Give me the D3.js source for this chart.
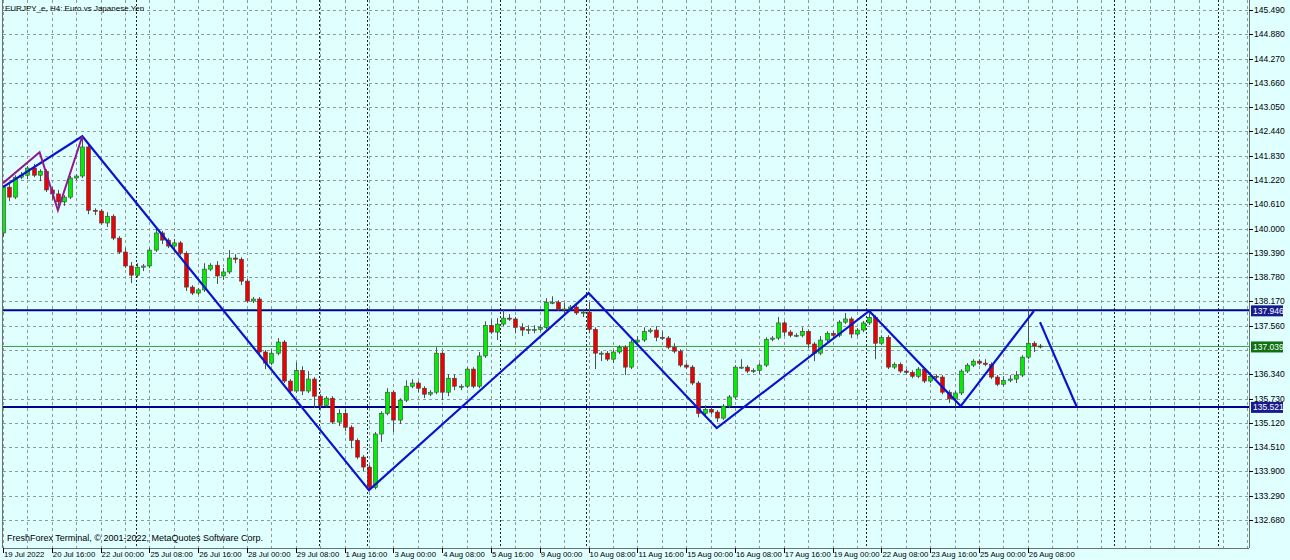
<!DOCTYPE html>
<html><head><meta charset="utf-8">
<script src="https://cdn.jsdelivr.net/npm/d3@7"></script>
<style>body{margin:0;background:#e0ffff}svg{display:block}text{font-family:"Liberation Sans",Arial,sans-serif}</style>
</head><body><svg id="c" width="1290" height="560"></svg>
<script>
const title = "EURJPY_e, H4:  Euro vs Japanese Yen";
const copyright = "FreshForex Terminal, © 2001-2022, MetaQuotes Software Corp.";
const firstOpen = 139.89;
const closes = [141.04,140.79,141.29,141.34,141.52,141.34,141.44,140.97,140.87,140.67,
140.79,141.27,141.32,142.05,140.46,140.44,140.14,140.31,139.76,139.41,
139.06,138.83,139.03,139.06,139.46,139.89,139.71,139.56,139.64,139.38,
138.53,138.38,138.46,138.98,139.08,138.81,138.91,139.26,139.23,138.68,
138.18,138.23,136.90,136.62,136.87,137.15,136.17,135.92,136.44,135.92,
136.22,135.79,135.56,135.74,135.14,135.36,135.01,134.68,134.26,134.01,
133.50,134.84,135.36,135.89,135.19,135.69,136.04,136.12,135.99,135.84,
135.89,136.87,135.89,136.24,136.04,136.04,136.47,136.04,136.80,137.57,
137.40,137.60,137.75,137.73,137.52,137.45,137.47,137.47,137.52,138.15,
138.15,137.98,137.98,138.03,137.88,137.90,137.47,136.87,136.87,136.72,
136.90,137.02,136.52,137.15,137.20,137.42,137.45,137.27,137.25,137.02,
136.92,136.57,136.52,136.12,135.36,135.46,135.39,135.24,135.54,135.77,
136.52,136.52,136.42,136.44,136.57,137.22,137.25,137.63,137.40,137.32,
137.32,137.42,137.10,136.87,137.20,137.37,137.32,137.65,137.73,137.35,
137.45,137.63,137.77,137.12,137.27,136.52,136.59,136.42,136.39,136.29,
136.47,136.17,136.29,136.27,135.89,135.72,135.87,136.42,136.57,136.67,
136.62,136.59,136.27,136.09,136.19,136.22,136.32,136.77,137.12,137.05,137.04];
const wickUp = [0.05,0.1,0.05,0.08,0.05,0.1,0.05,0.05,0.08,0.1, 0.05,0.05,0.05,0.27,0.05,0.05,0.05,0.1,0.05,0.05,
0.1,0.1,0.1,0.05,0.05,0.1,0.05,0.05,0.1,0.05, 0.05,0.05,0.05,0.15,0.05,0.1,0.1,0.2,0.1,0.05,
0.05,0.05,0.05,0.05,0.1,0.1,0.05,0.05,0.2,0.1, 0.2,0.05,0.05,0.05,0.05,0.1,0.1,0.05,0.05,0.05,
0.05,0.05,0.05,0.1,0.05,0.05,0.15,0.1,0.05,0.05, 0.05,0.15,0.05,0.1,0.1,0.05,0.05,0.05,0.1,0.1,
0.15,0.15,0.2,0.1,0.05,0.1,0.1,0.1,0.05,0.1, 0.15,0.05,0.15,0.05,0.05,0.05,0.25,0.05,0.05,0.05,
0.05,0.05,0.05,0.05,0.1,0.1,0.05,0.1,0.15,0.05, 0.1,0.05,0.05,0.05,0.05,0.1,0.05,0.05,0.05,0.05,
0.05,0.2,0.05,0.05,0.05,0.05,0.05,0.15,0.05,0.05, 0.05,0.1,0.05,0.05,0.1,0.05,0.05,0.05,0.15,0.05,
0.05,0.05,0.12,0.05,0.05,0.05,0.05,0.05,0.05,0.05, 0.05,0.05,0.05,0.05,0.05,0.05,0.05,0.05,0.05,0.05,
0.05,0.1,0.05,0.05,0.1,0.1,0.1,0.05,0.83,0.05,0.05];
const wickDn = [0.1,0.1,0.05,0.05,0.1,0.05,0.15,0.05,0.15,0.1, 0.1,0.05,0.05,0.05,0.1,0.1,0.05,0.1,0.05,0.05,
0.05,0.2,0.05,0.1,0.05,0.05,0.1,0.05,0.15,0.05, 0.1,0.05,0.05,0.05,0.05,0.2,0.1,0.05,0.1,0.1,
0.05,0.05,0.05,0.15,0.05,0.05,0.05,0.05,0.05,0.1, 0.05,0.3,0.1,0.05,0.05,0.1,0.1,0.2,0.05,0.1,
0.1,0.05,0.2,0.05,0.3,0.1,0.05,0.05,0.1,0.1, 0.05,0.05,0.2,0.1,0.1,0.1,0.05,0.05,0.05,0.05,
0.05,0.2,0.05,0.05,0.15,0.15,0.1,0.1,0.05,0.05, 0.05,0.05,0.1,0.05,0.05,0.1,0.1,0.4,0.2,0.05,
0.1,0.05,0.2,0.05,0.05,0.05,0.05,0.1,0.05,0.05, 0.05,0.05,0.05,0.05,0.1,0.05,0.05,0.1,0.05,0.05,
0.05,0.05,0.05,0.05,0.1,0.05,0.05,0.05,0.1,0.05, 0.05,0.05,0.1,0.2,0.05,0.1,0.05,0.05,0.05,0.1,
0.05,0.05,0.05,0.4,0.05,0.05,0.05,0.05,0.05,0.05, 0.05,0.05,0.05,0.05,0.05,0.1,0.2,0.05,0.05,0.05,
0.05,0.05,0.05,0.05,0.05,0.05,0.1,0.05,0.05,0.15,0.05];
const priceTicks = [145.490,144.880,144.270,143.660,143.050,142.440,141.830,141.220,140.610,140.000,139.390,138.780,138.170,137.560,136.340,135.730,135.120,134.510,133.900,133.290,132.680];
const gridPrices = [145.490,144.880,144.270,143.660,143.050,142.440,141.830,141.220,140.610,140.000,139.390,138.780,138.170,137.560,136.950,136.340,135.730,135.120,134.510,133.900,133.290,132.680];
const timeLabels = ["19 Jul 2022","20 Jul 16:00","22 Jul 00:00","25 Jul 08:00","26 Jul 16:00","28 Jul 00:00","29 Jul 08:00","1 Aug 16:00","3 Aug 00:00","4 Aug 08:00","5 Aug 16:00","9 Aug 00:00","10 Aug 08:00","11 Aug 16:00","15 Aug 00:00","16 Aug 08:00","17 Aug 16:00","19 Aug 00:00","22 Aug 08:00","23 Aug 16:00","25 Aug 00:00","26 Aug 08:00"];
const separators = [21.8,51.8,59.7,81.5,95.6,141.5,182.1,199.2];
const levels = [{p:137.946,c:"#000090",w:2,bg:"#1a1a90"},{p:135.521,c:"#000090",w:2,bg:"#1a1a90"},{p:137.039,c:"#3aa03a",w:1,bg:"#107010"}];
const zigBlueIdx = [0,13,60,96,117,142,157,169];
const zigBluePx = [141.04,142.32,133.43,138.38,134.99,137.93,135.54,137.93];
const projIdx = [170,176];
const projPx = [137.65,135.53];
const zigPurpIdx = [0,6,9,13];
const zigPurpPx = [141.14,141.92,140.46,142.32];

const svg = d3.select("#c");
const L=3, R=1249, T=0, B=548;
const x = d3.scaleLinear().domain([0,204.26]).range([L,R]);
const y = d3.scaleLinear().domain([145.49,132.68]).range([10,520]);
svg.append("rect").attr("width",1290).attr("height",560).attr("fill","#e0ffff");
svg.append("clipPath").attr("id","pc").append("rect").attr("x",L).attr("y",T).attr("width",R-L).attr("height",B);
const g = svg.append("g").attr("clip-path","url(#pc)");
g.selectAll(".hg").data(gridPrices).join("line").attr("x1",L).attr("x2",R).attr("y1",d=>Math.round(y(d))+0.5).attr("y2",d=>Math.round(y(d))+0.5).attr("stroke","#8c9a9a").attr("stroke-dasharray","3,3");
g.selectAll(".vg").data(d3.range(0,205,4)).join("line").attr("y1",0).attr("y2",B).attr("x1",d=>Math.round(x(d))+0.5).attr("x2",d=>Math.round(x(d))+0.5).attr("stroke","#8c9a9a").attr("stroke-dasharray","3,3");
g.selectAll(".sep").data(separators).join("line").attr("y1",0).attr("y2",B).attr("x1",d=>Math.round(x(d))+0.5).attr("x2",d=>Math.round(x(d))+0.5).attr("stroke","#222").attr("stroke-dasharray","2,2");
g.selectAll(".lv").data(levels).join("line").attr("x1",L).attr("x2",R).attr("y1",d=>y(d.p)).attr("y2",d=>y(d.p)).attr("stroke",d=>d.c).attr("stroke-width",d=>d.w);
const candles = closes.map((c,i)=>{const o=i===0?firstOpen:closes[i-1];return {i,o,c,h:Math.max(o,c)+wickUp[i],l:Math.min(o,c)-wickDn[i]};});
const cg = g.append("g");
cg.selectAll(".wk").data(candles).join("line").attr("x1",d=>Math.round(x(d.i))+0.5).attr("x2",d=>Math.round(x(d.i))+0.5).attr("y1",d=>y(d.h)).attr("y2",d=>y(d.l)).attr("stroke","#505050");
cg.selectAll(".bd").data(candles).join("rect").attr("x",d=>Math.round(x(d.i))-1.5).attr("width",4)
 .attr("y",d=>y(Math.max(d.o,d.c))).attr("height",d=>Math.max(1,Math.abs(y(d.o)-y(d.c))))
 .attr("fill",d=>d.c>=d.o?"#00ee00":"#ee0000").attr("stroke","#404040").attr("stroke-width",0.6);
const ln = d3.line().x(d=>x(d[0])).y(d=>y(d[1]));
g.append("path").attr("d",ln(zigBlueIdx.map((v,i)=>[v,zigBluePx[i]]))).attr("fill","none").attr("stroke","#0a14d0").attr("stroke-width",2.2);
g.append("path").attr("d",ln(projIdx.map((v,i)=>[v,projPx[i]]))).attr("fill","none").attr("stroke","#0a14d0").attr("stroke-width",2.2);
g.append("path").attr("d",ln(zigPurpIdx.map((v,i)=>[v,zigPurpPx[i]]))).attr("fill","none").attr("stroke","#901890").attr("stroke-width",2);
svg.append("line").attr("x1",R+0.5).attr("x2",R+0.5).attr("y1",0).attr("y2",B).attr("stroke","#707070");
svg.append("line").attr("x1",L).attr("x2",R).attr("y1",B+0.5).attr("y2",B+0.5).attr("stroke","#707070");
svg.append("line").attr("x1",L-0.5).attr("x2",L-0.5).attr("y1",0).attr("y2",B).attr("stroke","#707070");
const ya = svg.append("g");
ya.selectAll("line").data(priceTicks).join("line").attr("x1",R).attr("x2",R+4).attr("y1",d=>Math.round(y(d))+0.5).attr("y2",d=>Math.round(y(d))+0.5).attr("stroke","#000");
ya.selectAll("text").data(priceTicks).join("text").attr("x",R+5).attr("y",d=>y(d)+3).attr("font-size",8.5).attr("fill","#000").text(d=>d3.format(".3f")(d));
levels.forEach(d=>{ svg.append("rect").attr("x",R+2).attr("y",y(d.p)-5).attr("width",32).attr("height",11).attr("fill",d.bg);
 svg.append("text").attr("x",R+4).attr("y",y(d.p)+3.5).attr("font-size",8.5).attr("fill","#fff").text(d3.format(".3f")(d.p)); });
const xa = svg.append("g");
xa.selectAll("line").data(timeLabels).join("line").attr("x1",(d,i)=>Math.round(x(i*8))+0.5).attr("x2",(d,i)=>Math.round(x(i*8))+0.5).attr("y1",B).attr("y2",B+5).attr("stroke","#000");
xa.selectAll("text").data(timeLabels).join("text").attr("x",(d,i)=>x(i*8)+1).attr("y",B+9).attr("font-size",7.8).attr("fill","#000").text(d=>d);
svg.append("text").attr("x",5).attr("y",11).attr("font-size",8).attr("fill","#000").text(title);
svg.append("text").attr("x",7).attr("y",541).attr("font-size",9).attr("fill","#000").text(copyright);
</script></body></html>
